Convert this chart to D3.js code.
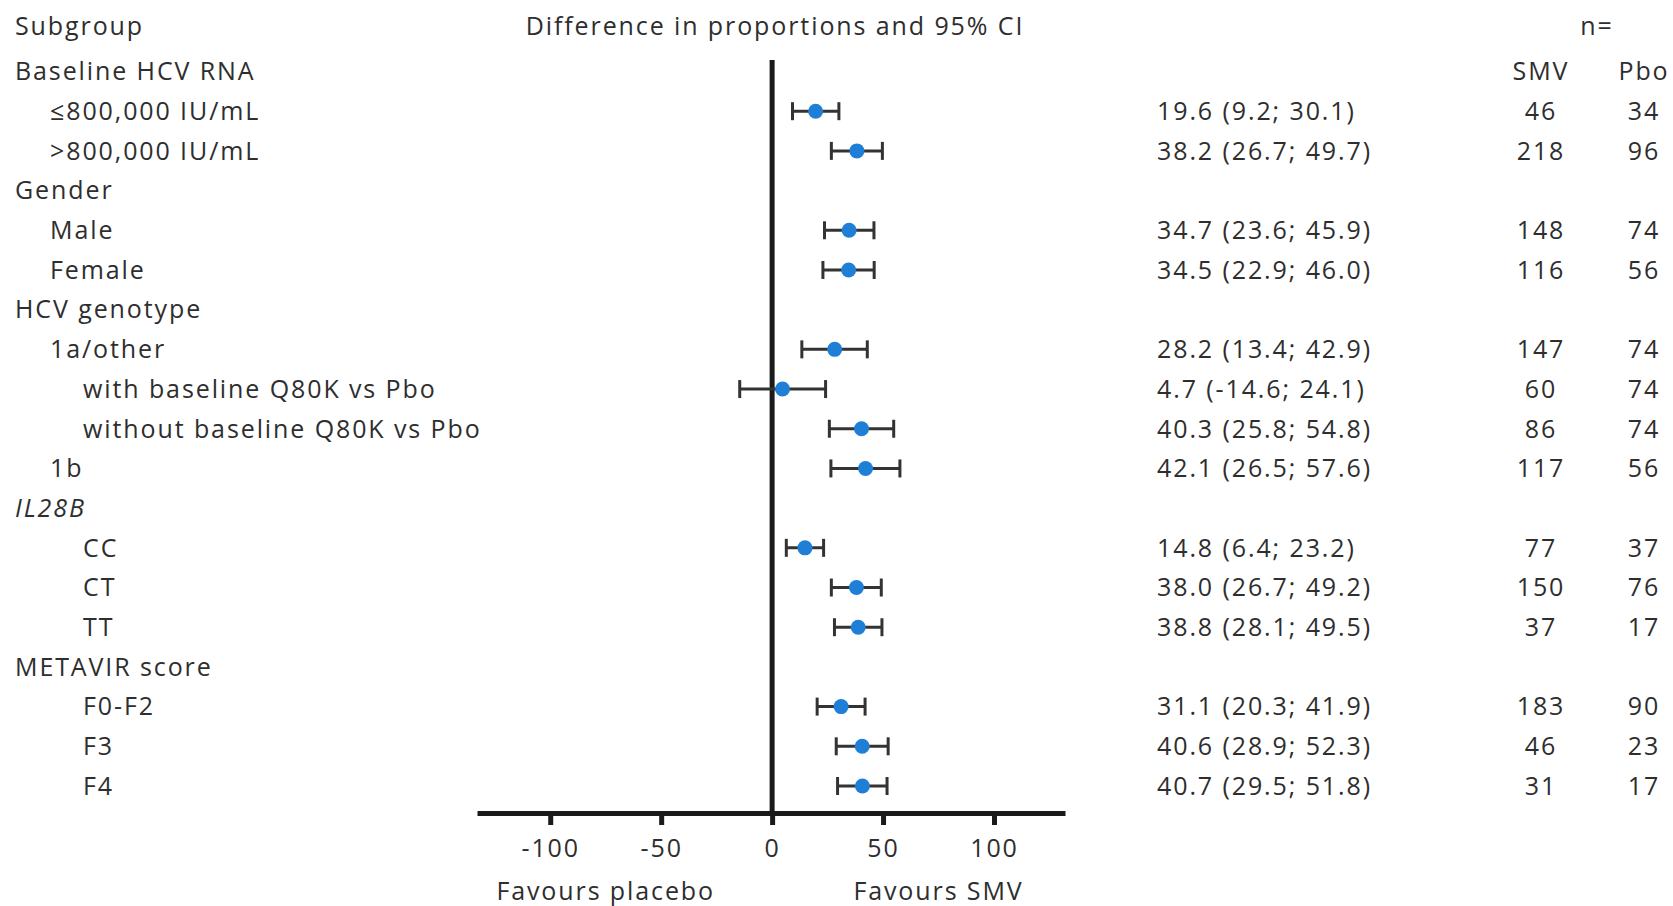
<!DOCTYPE html>
<html>
<head>
<meta charset="utf-8">
<script src="https://d3js.org/d3.v7.min.js"></script>
<style>
body{margin:0;background:#fff}
text{font-family:"Open Sans",sans-serif;fill:#2e2e2e;letter-spacing:1.9px}
</style>
</head>
<body>
<div id="chart"></div>
<script>

var labels = ["Baseline HCV RNA","\u2264800,000 IU/mL",">800,000 IU/mL","Gender","Male","Female",
	"HCV genotype","1a/other","with baseline Q80K vs Pbo","without baseline Q80K vs Pbo","1b",
	"IL28B","CC","CT","TT","METAVIR score","F0-F2","F3","F4"]
var levels = [0,1,1,0,1,1,0,1,2,2,1,0,2,2,2,0,2,2,2]
var estimates = [null,19.6,38.2,null,34.7,34.5,null,28.2,4.7,40.3,42.1,null,14.8,38.0,38.8,null,31.1,40.6,40.7]
var lower = [null,9.2,26.7,null,23.6,22.9,null,13.4,-14.6,25.8,26.5,null,6.4,26.7,28.1,null,20.3,28.9,29.5]
var upper = [null,30.1,49.7,null,45.9,46.0,null,42.9,24.1,54.8,57.6,null,23.2,49.2,49.5,null,41.9,52.3,51.8]
var nSMV = [null,46,218,null,148,116,null,147,60,86,117,null,77,150,37,null,183,46,31]
var nPbo = [null,34,96,null,74,56,null,74,74,74,56,null,37,76,17,null,90,23,17]
var tickValues = [-100,-50,0,50,100]

var width = 1673, height = 906
var fontSize = 25

var svg = d3.select("#chart").append("svg")
	.attr("width",width)
	.attr("height",height)

var x = d3.scaleLinear()
	.domain([-133,132])
	.range([477,1065])

var y = d3.scalePoint()
	.domain(d3.range(labels.length))
	.range([71.5,786])

var indent = d3.scaleOrdinal()
	.domain([0,1,2])
	.range([15,50,83])

var axisY = 813

// headers
svg.append("text").attr("x",15).attr("y",26).attr("dy","0.35em")
	.style("font-size",fontSize+"px").text("Subgroup")
svg.append("text").attr("x",775).attr("y",26).attr("dy","0.35em")
	.attr("text-anchor","middle").style("font-size",fontSize+"px")
	.text("Difference in proportions and 95% CI")
svg.append("text").attr("x",1597).attr("y",26).attr("dy","0.35em")
	.attr("text-anchor","middle").style("font-size",fontSize+"px").text("n=")
svg.append("text").attr("x",1541).attr("y",y(0)).attr("dy","0.35em")
	.attr("text-anchor","middle").style("font-size",fontSize+"px").text("SMV")
svg.append("text").attr("x",1644).attr("y",y(0)).attr("dy","0.35em")
	.attr("text-anchor","middle").style("font-size",fontSize+"px").text("Pbo")

var rows = labels.map(function(d,i){
	return {label:d,level:levels[i],est:estimates[i],lo:lower[i],hi:upper[i],smv:nSMV[i],pbo:nPbo[i],i:i}
})

// subgroup labels
svg.selectAll(".label")
	.data(rows).enter()
	.append("text")
	.attr("class","label")
	.attr("x",function(d){return indent(d.level)})
	.attr("y",function(d){return y(d.i)})
	.attr("dy","0.35em")
	.style("font-size",fontSize+"px")
	.style("font-style",function(d){return d.label=="IL28B" ? "italic" : "normal"})
	.text(function(d){return d.label})

var data = rows.filter(function(d){return d.est!==null})

// zero line
svg.append("line")
	.attr("x1",x(0)).attr("x2",x(0))
	.attr("y1",60).attr("y2",axisY)
	.attr("stroke","#1a1a1a")
	.attr("stroke-width",5)

// axis
var axis = svg.append("g")
	.attr("transform","translate(0,"+axisY+")")
	.call(d3.axisBottom(x).tickValues(tickValues).tickSize(12).tickSizeOuter(0).tickPadding(14)
		.tickFormat(function(d){return String(d)}))
axis.select(".domain").attr("stroke","#1a1a1a").attr("stroke-width",5)
axis.selectAll(".tick line").attr("stroke","#1a1a1a").attr("stroke-width",5)
axis.selectAll(".tick text").style("font-size",fontSize+"px").style("font-family","'Open Sans',sans-serif").attr("fill","#2e2e2e")

svg.append("text").attr("x",x(-75)).attr("y",891).attr("dy","0.35em")
	.attr("text-anchor","middle").style("font-size",fontSize+"px").text("Favours placebo")
svg.append("text").attr("x",x(75)).attr("y",891).attr("dy","0.35em")
	.attr("text-anchor","middle").style("font-size",fontSize+"px").text("Favours SMV")

// error bars
var bars = svg.selectAll(".ci")
	.data(data).enter()
	.append("g")
	.attr("class","ci")
	.attr("stroke","#333")
	.attr("stroke-width",3)

bars.append("line")
	.attr("x1",function(d){return x(d.lo)})
	.attr("x2",function(d){return x(d.hi)})
	.attr("y1",function(d){return y(d.i)})
	.attr("y2",function(d){return y(d.i)})
bars.append("line")
	.attr("x1",function(d){return x(d.lo)})
	.attr("x2",function(d){return x(d.lo)})
	.attr("y1",function(d){return y(d.i)-9})
	.attr("y2",function(d){return y(d.i)+9})
bars.append("line")
	.attr("x1",function(d){return x(d.hi)})
	.attr("x2",function(d){return x(d.hi)})
	.attr("y1",function(d){return y(d.i)-9})
	.attr("y2",function(d){return y(d.i)+9})

svg.selectAll(".pt")
	.data(data).enter()
	.append("circle")
	.attr("class","pt")
	.attr("cx",function(d){return x(d.est)})
	.attr("cy",function(d){return y(d.i)})
	.attr("r",7.5)
	.attr("fill","#1f7fd6")

// effect text and n columns
svg.selectAll(".eff")
	.data(data).enter()
	.append("text")
	.attr("class","eff")
	.attr("x",1157)
	.attr("y",function(d){return y(d.i)})
	.attr("dy","0.35em")
	.style("font-size",fontSize+"px")
	.text(function(d){return d.est.toFixed(1)+" ("+d.lo.toFixed(1)+"; "+d.hi.toFixed(1)+")"})

svg.selectAll(".nsmv")
	.data(data).enter()
	.append("text")
	.attr("x",1541)
	.attr("y",function(d){return y(d.i)})
	.attr("dy","0.35em")
	.attr("text-anchor","middle")
	.style("font-size",fontSize+"px")
	.text(function(d){return d.smv})

svg.selectAll(".npbo")
	.data(data).enter()
	.append("text")
	.attr("x",1644)
	.attr("y",function(d){return y(d.i)})
	.attr("dy","0.35em")
	.attr("text-anchor","middle")
	.style("font-size",fontSize+"px")
	.text(function(d){return d.pbo})

</script>
</body>
</html>
